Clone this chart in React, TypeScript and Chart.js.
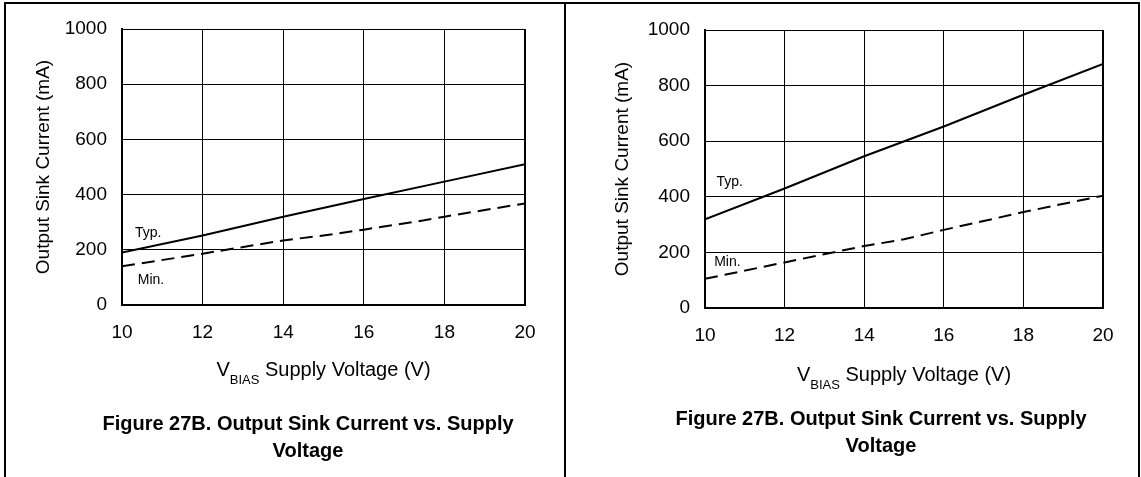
import React, { useEffect, useRef } from 'react';
import { Chart, registerables } from 'chart.js';

Chart.register(...registerables);

const FONT = '"Liberation Sans", Arial, Helvetica, sans-serif';

// Shared axis ticks
const voltageTicks = [10, 12, 14, 16, 18, 20];
const currentTicks = [0, 200, 400, 600, 800, 1000];

// Left panel data (V, mA)
const leftTypV = [10, 12, 14, 16, 18, 20];
const leftTypI = [190, 252, 320, 384, 447, 510];
const leftMinV = [10, 12, 14, 15, 16, 17.5, 18, 20];
const leftMinI = [140, 186, 234, 252, 273, 307, 320, 368];

// Right panel data (V, mA)
const rightTypV = [10, 12, 14, 16, 18, 20];
const rightTypI = [319, 430, 546, 653, 767, 878];
const rightMinV = [10, 12, 14, 15, 16, 18, 20];
const rightMinI = [105, 164, 223, 247, 281, 345, 404];

// Series names and their in-plot label anchors (data units: V, mA)
const seriesNames = ['Typ.', 'Min.'];
const leftLabelAnchors = [[10.32, 247], [10.39, 75]];
const rightLabelAnchors = [[10.29, 439], [10.23, 151]];

// Texts
const yAxisTitle = 'Output Sink Current (mA)';
const xTitleMain = 'V';
const xTitleSub = 'BIAS';
const xTitleRest = ' Supply Voltage (V)';
const captionLines = ['Figure 27B. Output Sink Current vs. Supply', 'Voltage'];

type Panel = {
  typV: number[];
  typI: number[];
  minV: number[];
  minI: number[];
  anchors: number[][];
  canvasLeft: number;
  width: number;
  yAxisWidth: number;
  padRight: number;
  padTop: number;
  xAxisHeight: number;
  yTitlePad: number;
  captionX: number;
  captionBaselines: number[];
  xTitleOffset: number;
};

const panels: Panel[] = [
  {
    typV: leftTypV, typI: leftTypI, minV: leftMinV, minI: leftMinI, anchors: leftLabelAnchors,
    canvasLeft: 0, width: 570, yAxisWidth: 122, padRight: 45, padTop: 29, xAxisHeight: 172,
    yTitlePad: 32, captionX: 308, captionBaselines: [430, 457], xTitleOffset: 71,
  },
  {
    typV: rightTypV, typI: rightTypI, minV: rightMinV, minI: rightMinI, anchors: rightLabelAnchors,
    canvasLeft: 570, width: 571, yAxisWidth: 135, padRight: 38, padTop: 30, xAxisHeight: 169,
    yTitlePad: 41, captionX: 311, captionBaselines: [425, 452], xTitleOffset: 73,
  },
];

const H = 477;

function textPlugin(p: Panel) {
  return {
    id: 'panelText',
    afterDraw(chart: any) {
      const ctx = chart.ctx as CanvasRenderingContext2D;
      const xs = chart.scales.x;
      const ys = chart.scales.y;
      const area = chart.chartArea;
      ctx.save();
      ctx.fillStyle = '#000';

      // Series labels
      ctx.font = `14px ${FONT}`;
      ctx.textAlign = 'left';
      ctx.textBaseline = 'alphabetic';
      seriesNames.forEach((name, i) => {
        const [vx, vy] = p.anchors[i];
        ctx.fillText(name, xs.getPixelForValue(vx), ys.getPixelForValue(vy));
      });

      // X axis title with subscript
      const mainFont = `20px ${FONT}`;
      const subFont = `13px ${FONT}`;
      ctx.font = mainFont;
      const wMain = ctx.measureText(xTitleMain).width;
      const wRest = ctx.measureText(xTitleRest).width;
      ctx.font = subFont;
      const wSub = ctx.measureText(xTitleSub).width;
      const total = wMain + wSub + wRest;
      const cx = (area.left + area.right) / 2;
      const base = area.bottom + p.xTitleOffset;
      let x = cx - total / 2;
      ctx.font = mainFont;
      ctx.fillText(xTitleMain, x, base);
      x += wMain;
      ctx.font = subFont;
      ctx.fillText(xTitleSub, x, base + 8);
      x += wSub;
      ctx.font = mainFont;
      ctx.fillText(xTitleRest, x, base);

      // Caption
      ctx.font = `bold 20px ${FONT}`;
      ctx.textAlign = 'center';
      captionLines.forEach((line, i) => {
        ctx.fillText(line, p.captionX, p.captionBaselines[i]);
      });
      ctx.restore();
    },
  };
}

function PanelChart({ p }: { p: Panel }) {
  const ref = useRef<HTMLCanvasElement | null>(null);
  useEffect(() => {
    if (!ref.current) return;
    const chart = new Chart(ref.current, {
      type: 'line',
      data: {
        datasets: [
          {
            label: seriesNames[0],
            data: p.typV.map((v, i) => ({ x: v, y: p.typI[i] })),
            borderColor: '#000',
            borderWidth: 2,
            pointRadius: 0,
            fill: false,
            tension: 0,
          },
          {
            label: seriesNames[1],
            data: p.minV.map((v, i) => ({ x: v, y: p.minI[i] })),
            borderColor: '#000',
            borderWidth: 2,
            borderDash: [13, 7],
            pointRadius: 0,
            fill: false,
            tension: 0,
          },
        ],
      },
      options: {
        responsive: false,
        animation: false,
        layout: { padding: { left: 0, right: p.padRight, top: p.padTop, bottom: 0 } },
        plugins: {
          legend: { display: false },
          tooltip: { enabled: false },
          title: { display: false },
        },
        scales: {
          x: {
            type: 'linear',
            min: 10,
            max: 20,
            afterBuildTicks: (s: any) => {
              s.ticks = voltageTicks.map((v) => ({ value: v }));
            },
            afterFit: (s: any) => {
              s.height = p.xAxisHeight;
            },
            ticks: {
              color: '#000',
              font: { family: FONT, size: 19 },
              padding: 16,
              maxRotation: 0,
              autoSkip: false,
              callback: (v: any) => String(v),
            },
            grid: {
              color: '#000',
              lineWidth: (c: any) => (c.tick && c.tick.value === 20 ? 2 : 1),
              drawTicks: false,
            },
            border: { color: '#000', width: 2 },
          },
          y: {
            type: 'linear',
            min: 0,
            max: 1000,
            afterBuildTicks: (s: any) => {
              s.ticks = currentTicks.map((v) => ({ value: v }));
            },
            afterFit: (s: any) => {
              s.width = p.yAxisWidth;
            },
            ticks: {
              color: '#000',
              font: { family: FONT, size: 19 },
              padding: 15,
              autoSkip: false,
              callback: (v: any) => String(v),
            },
            grid: { color: '#000', lineWidth: 1, drawTicks: false },
            border: { color: '#000', width: 2 },
            title: {
              display: true,
              text: yAxisTitle,
              color: '#000',
              font: { family: FONT, size: 19 },
              padding: { top: p.yTitlePad, bottom: 0 },
            },
          },
        },
      } as any,
      plugins: [textPlugin(p)],
    });
    return () => chart.destroy();
  }, [p]);
  return (
    <canvas
      ref={ref}
      width={p.width}
      height={H}
      style={{ position: 'absolute', left: p.canvasLeft, top: 0, width: p.width, height: H }}
    />
  );
}

export default function App() {
  const line = (s: React.CSSProperties) => (
    <div style={{ position: 'absolute', background: '#000', ...s }} />
  );
  return (
    <div style={{ position: 'fixed', left: 0, top: 0, width: 1141, height: H, background: '#fff', overflow: 'hidden' }}>
      {panels.map((p, i) => (
        <PanelChart key={i} p={p} />
      ))}
      {line({ left: 4, top: 2, width: 2, height: H - 2 })}
      {line({ left: 4, top: 2, width: 1136, height: 2 })}
      {line({ left: 564, top: 2, width: 2, height: H - 2 })}
      {line({ left: 1138, top: 2, width: 2, height: H - 2 })}
    </div>
  );
}
